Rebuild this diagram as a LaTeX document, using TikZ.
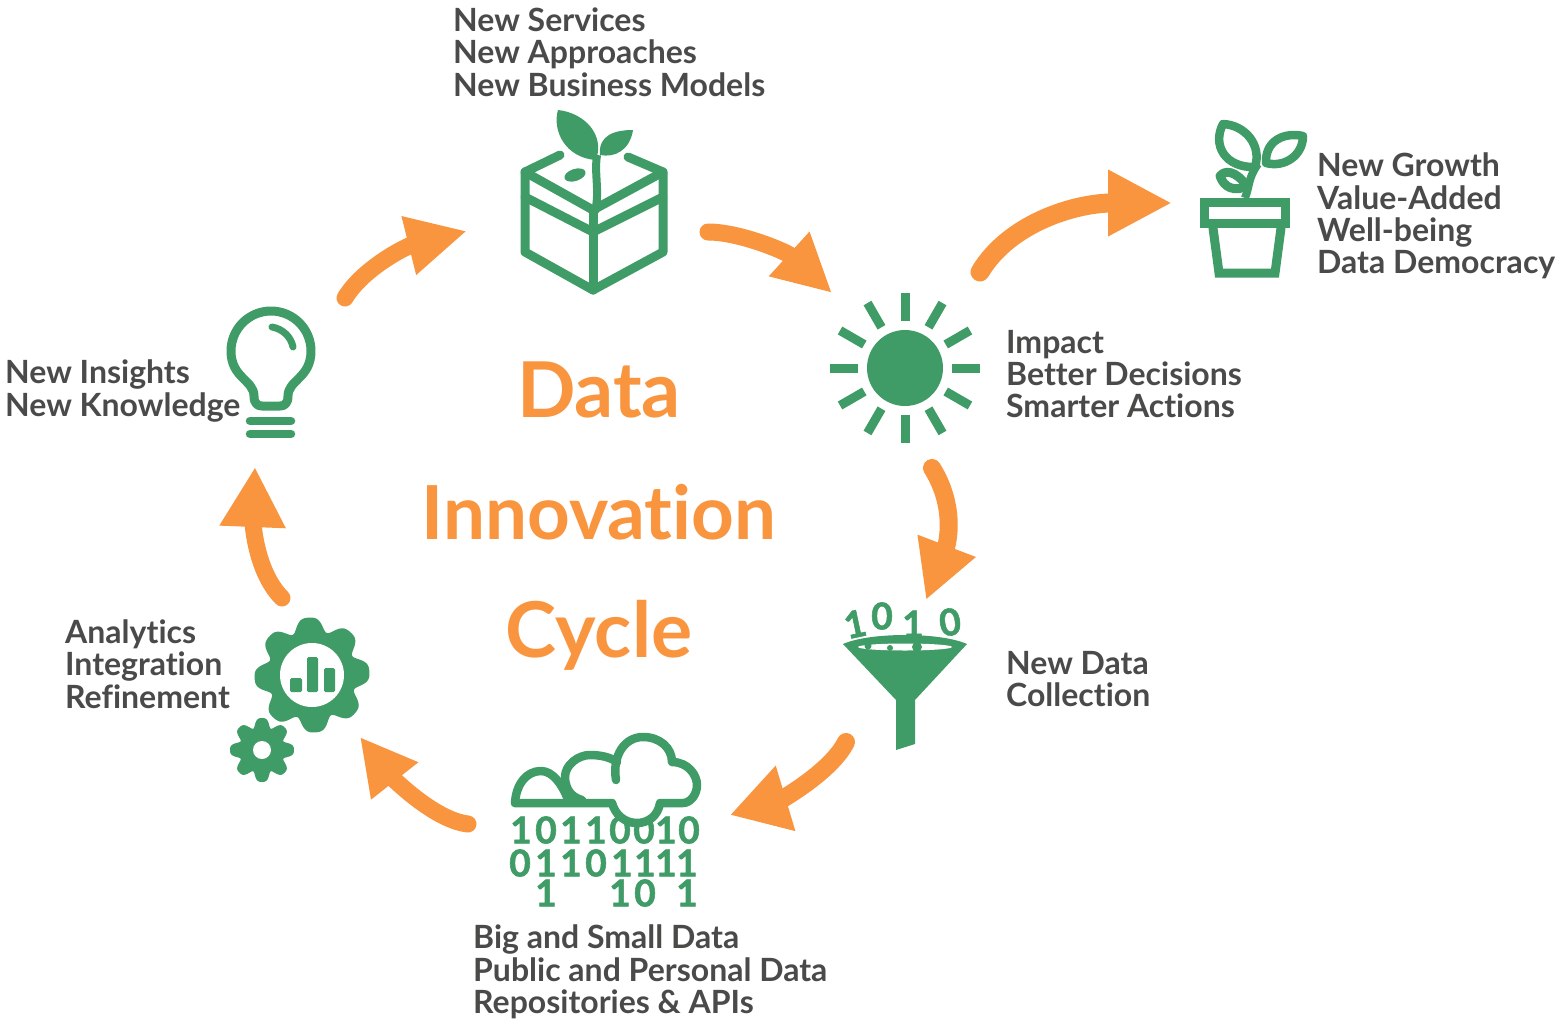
\documentclass[tikz,border=0pt]{standalone}
\usepackage{fontspec}
\setmainfont{Lato}[Ligatures=CommonOff]
\newfontfamily\digf{Lato}[FakeBold=1.6,Ligatures=CommonOff]
\usetikzlibrary{arrows.meta}
\definecolor{leaf}{HTML}{3F9C66}
\definecolor{flame}{HTML}{F9953F}
\definecolor{ink}{HTML}{4A4A48}
\tikzset{
  flow/.style={draw=flame,line width=17pt,line cap=round,-{Triangle[width=60pt,length=54pt]}},
  lab/.style={anchor=west,align=left,inner sep=0pt,text=ink,font=\fontsize{32}{32.3}\selectfont\bfseries},
  ttl/.style={anchor=center,inner sep=0pt,text=flame,font=\fontsize{77}{80}\selectfont\bfseries},
  ico/.style={draw=leaf,line width=9pt,line join=round,line cap=round},
  dig/.style={anchor=center,inner sep=0pt,text=leaf,font=\digf\fontsize{37}{40}\selectfont\bfseries},
}
\begin{document}
\begin{tikzpicture}[x=1pt,y=-1pt]
\useasboundingbox (0,0) rectangle (1559,1023);
\fill[white] (0,0) rectangle (1559,1023);
% connector ends
\coordinate (a1s) at (708,232); \coordinate (a1e) at (832,293);
\coordinate (a2s) at (980,272); \coordinate (a2e) at (1172,203);
\coordinate (a3s) at (932,468); \coordinate (a3e) at (926,600);
\coordinate (a4s) at (846,742); \coordinate (a4e) at (730,815);
\coordinate (a5s) at (468,824); \coordinate (a5e) at (360,737);
\coordinate (a6s) at (282,598); \coordinate (a6e) at (255,467);
\coordinate (a7s) at (345,298); \coordinate (a7e) at (467,231);
\draw[flow,-{Triangle[width=56pt,length=58pt]}] (a1s) .. controls +(32,0) and +(-45,-41) .. (a1e);
\draw[flow,line width=19pt,-{Triangle[width=62pt,length=64pt]}] (a2s) .. controls +(30,-50) and +(-95,0) .. (a2e);
\draw[flow,line width=18pt,-{Triangle[width=58pt,length=58pt]}] (a3s) .. controls +(25,40) and +(21,-55) .. (a3e);
\draw[flow,line width=18pt,-{Triangle[width=64pt,length=58pt]}] (a4s) .. controls +(-15,30) and +(50,-15) .. (a4e);
\draw[flow,-{Triangle[width=56pt,length=56pt]}] (a5s) .. controls +(-35,-4) and +(30,38) .. (a5e);
\draw[flow,-{Triangle[width=62pt,length=60pt]}] (a6s) .. controls +(-28,-28) and +(-2,50) .. (a6e);
\draw[flow,-{Triangle[width=56pt,length=60pt]}] (a7s) .. controls +(18,-30) and +(-60,15) .. (a7e);
% title
\node[ttl] (t1) at (599,390) {Data};
\node[ttl,font=\fontsize{74.5}{80}\selectfont\bfseries] (t2) at (599,512) {Innovation};
\node[ttl] (t3) at (599,635) {Cycle};
% labels
\node[lab] (l1) at (453,52) {New Services\\New Approaches\\New Business Models};
\node[lab] (l2) at (1317,216) {New Growth\\Value-Added\\Well-being\\Data Democracy};
\node[lab] (l3) at (1006,374) {Impact\\Better Decisions\\Smarter Actions};
\node[lab] (l4) at (1006,679) {New Data\\Collection};
\node[lab] (l5) at (473,972) {Big and Small Data\\Public and Personal Data\\Repositories \& APIs};
\node[lab] (l6) at (65,664) {Analytics\\Integration\\Refinement};
\node[lab] (l7) at (5,391) {New Insights\\New Knowledge};
% box icon
\draw[ico] (560,155) -- (525,172) -- (525,252) -- (593,290) -- (663,252) -- (663,172) -- (628,157);
\draw[ico] (525,172) -- (593,210) -- (663,172);
\draw[ico] (525,197) -- (593,232) -- (663,197);
\draw[ico] (593,210) -- (593,290);
\fill[leaf] (596,160) .. controls (565,158) and (552,130) .. (558,110) .. controls (585,113) and (605,135) .. (596,160) -- cycle;
\fill[leaf] (600,155) .. controls (598,135) and (615,130) .. (633,130) .. controls (630,150) and (615,158) .. (600,155) -- cycle;
\draw[ico,line width=8pt,line cap=butt] (597,155) .. controls (594,175) and (600,190) .. (595,212);
\fill[leaf,rotate around={18:(575,175)}] (575,175) ellipse (11 and 6);
% plant icon
\draw[ico,line join=miter] (1204.5,202.5) rectangle (1285.5,223.5);
\draw[ico,line join=miter] (1213,228) -- (1219,273) -- (1275,273) -- (1281,228);
\draw[ico,line width=8.5pt] (1255,167) .. controls (1225,168) and (1212,145) .. (1223,124) .. controls (1245,125) and (1262,145) .. (1255,167) -- cycle;
\draw[ico,line width=8.5pt] (1266,163) .. controls (1265,140) and (1285,132) .. (1303,136) .. controls (1303,155) and (1285,168) .. (1266,163) -- cycle;
\draw[ico,line width=9pt] (1247,186) .. controls (1235,170) and (1225,170) .. (1220,176) .. controls (1224,188) and (1235,192) .. (1247,186) -- cycle;
\draw[ico,line width=8pt,line cap=butt] (1245,198) .. controls (1250,185) and (1248,178) .. (1258,164);
% sun icon
\fill[leaf] (905,368) circle (38);
\foreach \a in {0,30,...,330}{
  \draw[ico,line width=9pt,line cap=butt] (905,368) ++(\a:47) -- ++(\a:28);
}
% funnel icon
\fill[leaf,line join=round] (843,644) .. controls (870,632) and (940,632) .. (967,644) -- (915,700) -- (915,744) -- (896,750) -- (896,700) -- cycle;
\fill[white] (905,647) ellipse (47 and 3.5);
\fill[leaf] (868,646) circle (3.5) (890,648) circle (3) (917,647) circle (5);
\fill[leaf] (859,634) circle (2.5);
\node[dig,rotate=12] (f1) at (855,624) {1};
\node[dig] (f2) at (882,616) {0};
\node[dig] (f3) at (913,624) {1};
\node[dig,rotate=8] (f4) at (950,622) {0};
% cloud icon
\foreach \n/\xx/\yy/\d in {c1/521/830/1,c2/546/830/0,c3/571/830/1,c4/596/830/1,c5/620/830/0,c6/644/830/0,c7/666/830/1,c8/689/830/0,
  d1/520/863/0,d2/546/863/1,d3/571/863/1,d4/596/863/0,d5/622/863/1,d6/645/863/1,d7/666/863/1,d8/687/863/1,
  e1/546/893/1,e2/620/893/1,e3/645/893/0,e4/687/893/1}{
  \node[dig] (\n) at (\xx,\yy) {\d};
}
\draw[ico,fill=white,line width=8.5pt] (616,780) .. controls (612,755) and (625,737) .. (643,737) .. controls (660,737) and (672,748) .. (672,762) .. controls (688,762) and (697,775) .. (697,785) .. controls (697,795) and (690,803) .. (683,803) -- (660,803) .. controls (658,816) and (648,823) .. (637,823) .. controls (624,823) and (615,814) .. (612,803) -- (515,803);
\draw[ico,line width=8.5pt] (515,803) .. controls (516,785) and (526,771) .. (541,771) .. controls (553,771) and (562,785) .. (567,797);
\draw[ico,line width=8.5pt] (582,800) .. controls (570,797) and (565,787) .. (565,777) .. controls (565,765) and (578,755) .. (590,755) .. controls (600,755) and (610,757) .. (617,762);
% gear icons
\fill[leaf,smooth] plot[domain=0:360,samples=181] ({312+(52.5+6.5*cos(8*(\x-3))-1.5*cos(16*(\x-3)))*cos(\x)},{675-(52.5+6.5*cos(8*(\x-3))-1.5*cos(16*(\x-3)))*sin(\x)}) -- cycle;
\fill[white] (312,675) circle (32);
\fill[leaf,rounded corners=1.5pt] (290,678) rectangle (302,692) (307,657) rectangle (318,692) (324,668) rectangle (335,692);
\fill[leaf,smooth] plot[domain=0:360,samples=181] ({262+(28.5+4.5*cos(8*\x)-1*cos(16*\x))*cos(\x)},{750-(28.5+4.5*cos(8*\x)-1*cos(16*\x))*sin(\x)}) -- cycle;
\fill[white] (262,750) circle (9);
% bulb icon
\draw[ico] (254,396) .. controls (254,380) and (231,378) .. (231,351) arc[start angle=180,end angle=360,radius=40] .. controls (311,378) and (288,380) .. (288,396) .. controls (288,404) and (284,406) .. (280,406) -- (262,406) .. controls (258,406) and (254,404) .. (254,396);
\draw[ico,line width=7pt] (272,327) .. controls (283,329) and (291,337) .. (293,347);
\draw[ico,line width=8.5pt] (250,421) -- (291,421);
\draw[ico,line width=8.5pt] (250,434) -- (291,434);
\end{tikzpicture}
\end{document}
